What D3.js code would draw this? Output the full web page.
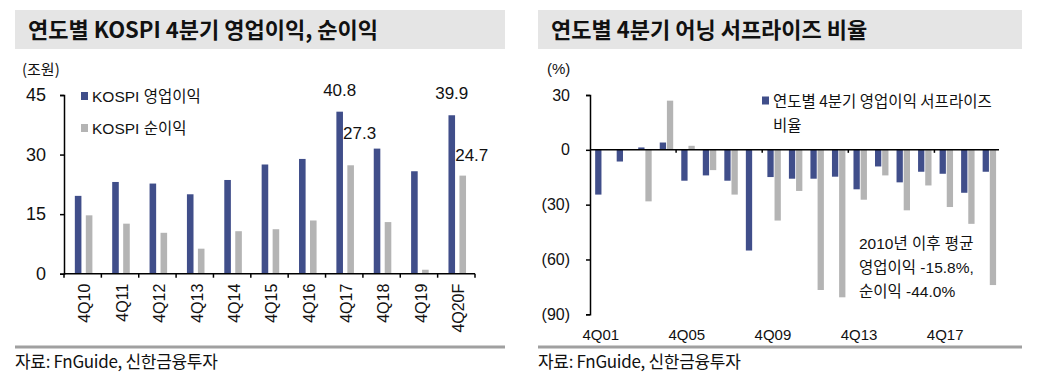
<!DOCTYPE html>
<html>
<head>
<meta charset="utf-8">
<script src="https://cdn.jsdelivr.net/npm/d3@7"></script>
<style>
  body { margin: 0; background: #fff; }
  svg text { font-family: "Liberation Sans", "Noto Sans CJK KR", sans-serif; fill: #111; }
  .title { font-family: "Noto Sans CJK KR", sans-serif; font-weight: bold; }
  .kr { font-family: "Noto Sans CJK KR", sans-serif; }
</style>
</head>
<body>
<div id="chart"></div>
<script>
// left chart: KOSPI 4Q operating profit / net profit (조원)
const kospiQuarters = ['4Q10', '4Q11', '4Q12', '4Q13', '4Q14', '4Q15', '4Q16', '4Q17', '4Q18', '4Q19', '4Q20F'];
const kospiOpProfit = [19.6, 23.1, 22.7, 20.0, 23.6, 27.5, 28.9, 40.8, 31.5, 25.8, 39.9];
const kospiNetProfit = [14.7, 12.6, 10.3, 6.3, 10.7, 11.2, 13.4, 27.3, 13.0, 1.0, 24.7];
const kospiTicks = [0, 15, 30, 45];
const kospiLegend = ['KOSPI 영업이익', 'KOSPI 순이익'];

// right chart: 4Q earnings surprise ratio (%)
const surpriseQuarters = ['4Q01', '4Q02', '4Q03', '4Q04', '4Q05', '4Q06', '4Q07', '4Q08', '4Q09', '4Q10',
  '4Q11', '4Q12', '4Q13', '4Q14', '4Q15', '4Q16', '4Q17', '4Q18', '4Q19'];
const surpriseOp = [-24.5, -6.4, 1.3, 4.0, -16.9, -14.0, -16.9, -55.1, -14.9, -15.8,
  -15.8, -14.7, -21.6, -9.1, -17.8, -12.0, -13.1, -23.5, -12.0];
const surpriseNet = [0, 0, -28.2, 26.9, 2.2, -11.1, -24.5, 0, -38.7, -22.5,
  -76.7, -80.7, -27.3, -14.0, -33.1, -19.5, -31.3, -40.5, -74.0];
const surpriseTicks = [30, 0, -30, -60, -90];
const surpriseLabels = ['4Q01', '4Q05', '4Q09', '4Q13', '4Q17'];
const noteLines = ['2010년 이후 평균', '영업이익 -15.8%,', '순이익 -44.0%'];

const BLUE = '#404e8a';
const GRAY = '#b4b4b4';

const svg = d3.select('#chart').append('svg')
  .attr('width', 1042).attr('height', 387);

// title bars, source lines
function frame(x0, x1, title) {
  svg.append('rect').attr('x', x0).attr('y', 10).attr('width', x1 - x0).attr('height', 39)
    .attr('fill', '#e5e5e5');
  svg.append('text').attr('class', 'title')
    .attr('x', x0 + 13).attr('y', 30).attr('dy', '0.36em')
    .style('font-size', '22px').text(title);
  svg.append('line').attr('x1', x0).attr('x2', x1).attr('y1', 347).attr('y2', 347)
    .attr('stroke', '#a0a0a0').attr('stroke-width', 3);
  svg.append('text').attr('class', 'kr')
    .attr('x', x0).attr('y', 362).attr('dy', '0.36em')
    .style('font-size', '17px').style('letter-spacing', '-0.3px')
    .text('자료: FnGuide, 신한금융투자');
}
frame(15, 505, '연도별 KOSPI 4분기 영업이익, 순이익');
frame(538, 1022, '연도별 4분기 어닝 서프라이즈 비율');

/* LEFT CHART */
{
  const x = d3.scaleBand().domain(kospiQuarters).range([64, 475]);
  const y = d3.scaleLinear().domain([0, 45]).range([273.7, 95]);
  const bw = x.bandwidth();
  const sub = d3.scaleBand().domain([0, 1]).range([0.29 * bw, 0.76 * bw]).paddingInner(0.4);
  const g = svg.append('g');

  const rows = kospiQuarters.map((q, i) => ({ q, vals: [kospiOpProfit[i], kospiNetProfit[i]] }));
  g.selectAll('g.cat').data(rows).join('g')
    .attr('transform', (d) => `translate(${x(d.q)},0)`)
    .selectAll('rect').data((d) => d.vals).join('rect')
    .attr('x', (d, i) => sub(i)).attr('width', sub.bandwidth())
    .attr('y', (d) => y(d)).attr('height', (d) => y(0) - y(d))
    .attr('fill', (d, i) => (i === 0 ? BLUE : GRAY));

  const yAxis = d3.axisLeft(y).tickValues(kospiTicks).tickSize(4).tickPadding(14);
  const ya = g.append('g').attr('transform', 'translate(64,0)').call(yAxis);
  ya.select('.domain').attr('stroke', '#000').attr('stroke-width', 1.5);
  ya.selectAll('.tick line').attr('stroke', '#000').attr('stroke-width', 1.5);
  ya.selectAll('.tick text').style('font-size', '18px').attr('fill', '#111');

  // x axis line with ticks at category boundaries
  g.append('line').attr('x1', 64).attr('x2', 475).attr('y1', y(0)).attr('y2', y(0))
    .attr('stroke', '#000').attr('stroke-width', 1.5);
  g.selectAll('line.xt').data(kospiQuarters.concat(['end'])).join('line').attr('class', 'xt')
    .attr('x1', (d, i) => 64 + i * bw).attr('x2', (d, i) => 64 + i * bw)
    .attr('y1', y(0)).attr('y2', y(0) + 4)
    .attr('stroke', '#000').attr('stroke-width', 1.5);
  g.selectAll('text.xl').data(kospiQuarters).join('text').attr('class', 'xl')
    .attr('transform', (d) => `translate(${x(d) + bw / 2 + 2},${y(0) + 10}) rotate(-90)`)
    .attr('text-anchor', 'end').attr('dy', '0.36em')
    .style('font-size', '16px').text((d) => d);

  g.append('text').attr('class', 'kr').attr('x', 22).attr('y', 70).attr('dy', '0.36em')
    .style('font-size', '15px').text('(조원)');

  // value labels
  const labels = [
    { i: 7, s: 0, dx: 0, y: 90 }, { i: 7, s: 1, dx: 9, y: 133 },
    { i: 10, s: 0, dx: 0, y: 93 }, { i: 10, s: 1, dx: 9, y: 155 },
  ];
  g.selectAll('text.val').data(labels).join('text').attr('class', 'val')
    .attr('x', (d) => x(kospiQuarters[d.i]) + sub(d.s) + sub.bandwidth() / 2 + d.dx)
    .attr('y', (d) => d.y).attr('dy', '0.36em').attr('text-anchor', 'middle')
    .style('font-size', '17px')
    .text((d) => (d.s === 0 ? kospiOpProfit[d.i] : kospiNetProfit[d.i]).toFixed(1));

  // legend
  const lg = g.selectAll('g.lg').data(kospiLegend).join('g').attr('class', 'lg')
    .attr('transform', (d, i) => `translate(81,${96 + i * 32})`);
  lg.append('rect').attr('x', 0).attr('y', -4).attr('width', 7).attr('height', 8)
    .attr('fill', (d, i) => (i === 0 ? BLUE : GRAY));
  lg.append('text').attr('x', 11).attr('dy', '0.36em').style('font-size', '15.5px').text((d) => d);
}

/* RIGHT CHART */
{
  const x = d3.scaleBand().domain(surpriseQuarters).range([590, 999]);
  const y = d3.scaleLinear().domain([-90, 30]).range([314.3, 95]);
  const bw = x.bandwidth();
  const sub = d3.scaleBand().domain([0, 1]).range([0.24 * bw, 0.865 * bw]).paddingInner(0.12);
  const g = svg.append('g');

  const rows = surpriseQuarters.map((q, i) => ({ q, vals: [surpriseOp[i], surpriseNet[i]] }));
  g.selectAll('g.cat').data(rows).join('g')
    .attr('transform', (d) => `translate(${x(d.q)},0)`)
    .selectAll('rect').data((d) => d.vals).join('rect')
    .attr('x', (d, i) => sub(i)).attr('width', sub.bandwidth())
    .attr('y', (d) => y(Math.max(0, d))).attr('height', (d) => Math.abs(y(d) - y(0)))
    .attr('fill', (d, i) => (i === 0 ? BLUE : GRAY));

  const yAxis = d3.axisLeft(y).tickValues(surpriseTicks).tickSize(4).tickPadding(16)
    .tickFormat((d) => (d < 0 ? `(${-d})` : d));
  const ya = g.append('g').attr('transform', 'translate(590,0)').call(yAxis);
  ya.select('.domain').attr('stroke', '#000').attr('stroke-width', 1.5);
  ya.selectAll('.tick line').attr('stroke', '#000').attr('stroke-width', 1.5);
  ya.selectAll('.tick text').style('font-size', '16px').attr('fill', '#111');

  // zero line with ticks every 4 quarters
  g.append('line').attr('x1', 590).attr('x2', 999).attr('y1', y(0)).attr('y2', y(0))
    .attr('stroke', '#000').attr('stroke-width', 1.5);
  g.selectAll('line.xt').data([4, 8, 12, 16]).join('line').attr('class', 'xt')
    .attr('x1', (d) => 590 + d * bw).attr('x2', (d) => 590 + d * bw)
    .attr('y1', y(0)).attr('y2', y(0) + 3)
    .attr('stroke', '#000').attr('stroke-width', 1.5);
  g.selectAll('text.xl').data(surpriseLabels).join('text').attr('class', 'xl')
    .attr('x', (d) => x(d) + bw / 2).attr('y', 335).attr('dy', '0.36em')
    .attr('text-anchor', 'middle').style('font-size', '15px').text((d) => d);

  g.append('text').attr('x', 547).attr('y', 69).attr('dy', '0.36em')
    .style('font-size', '15px').text('(%)');

  // legend
  g.append('rect').attr('x', 762).attr('y', 96.5).attr('width', 7).attr('height', 8).attr('fill', BLUE);
  g.append('text').attr('class', 'kr').attr('x', 773).attr('y', 101).attr('dy', '0.36em')
    .style('font-size', '15.5px').text('연도별 4분기 영업이익 서프라이즈');
  g.append('text').attr('class', 'kr').attr('x', 773).attr('y', 125).attr('dy', '0.36em')
    .style('font-size', '15.5px').text('비율');

  // note
  g.selectAll('text.note').data(noteLines).join('text').attr('class', 'note')
    .attr('x', 859).attr('y', (d, i) => 243 + i * 24).attr('dy', '0.36em')
    .style('font-size', '15.5px').text((d) => d);
}
</script>
</body>
</html>
